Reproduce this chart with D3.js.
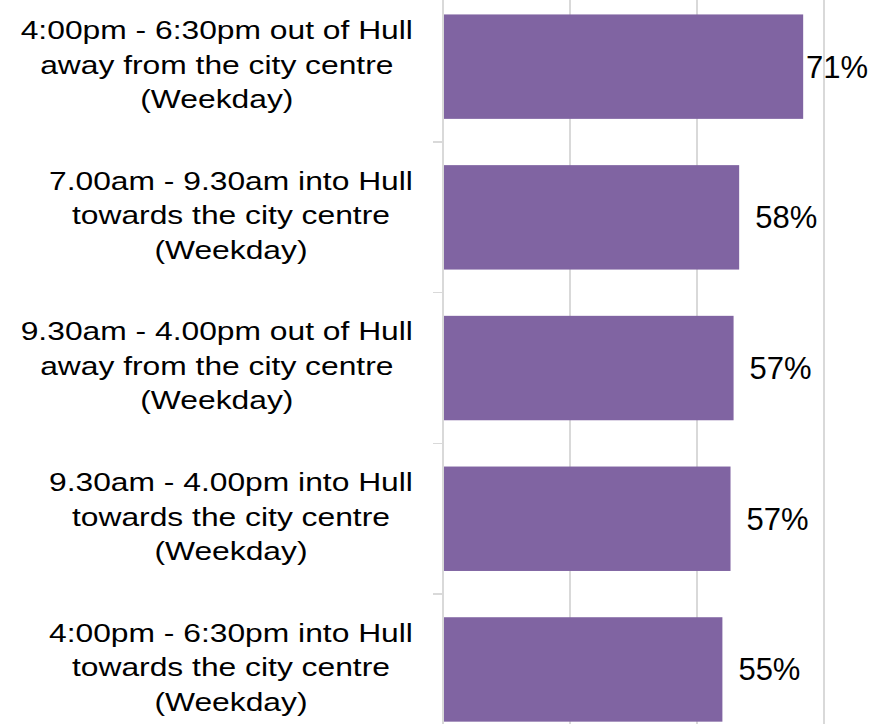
<!DOCTYPE html>
<meta charset="utf-8">

<style>
body { margin: 0; background: #fff; }

.catLabel {
  font-family: "Liberation Sans", Arial, sans-serif;
  font-size: 26px;
  fill: #000;
}

.valLabel {
  font-family: "Liberation Sans", Arial, sans-serif;
  font-size: 31px;
  fill: #000;
}

.grid line, .axisLine, .tickMark {
  stroke: #d9d9d9;
  stroke-width: 1.5;
  shape-rendering: crispEdges;
}
</style>

<svg width="872" height="724"></svg>

<script src="https://cdn.jsdelivr.net/npm/d3@7"></script>
<script>

//categories (top to bottom) and their shares
const categories = [
  ["4:00pm - 6:30pm out of Hull", "away from the city centre", "(Weekday)"],
  ["7.00am - 9.30am into Hull", "towards the city centre", "(Weekday)"],
  ["9.30am - 4.00pm out of Hull", "away from the city centre", "(Weekday)"],
  ["9.30am - 4.00pm into Hull", "towards the city centre", "(Weekday)"],
  ["4:00pm - 6:30pm into Hull", "towards the city centre", "(Weekday)"]
]
const values = [0.709, 0.583, 0.572, 0.566, 0.550]
const xTicks = [0, 0.25, 0.5, 0.75, 1]

const svg = d3.select("svg")

//plot area is bigger than the picture, it gets cut at the edges
const plotLeft = 443,
    plotRight = 951,
    plotTop = -8.7,
    plotBottom = 744.8,
    lineGap = 34.5,
    labelRight = 413,
    stretchX = 1.223   //category labels come out wider than tall

const x = d3.scaleLinear()
    .domain([0, 1])
    .range([plotLeft, plotRight])

const y = d3.scaleBand()
    .domain(d3.range(categories.length))
    .range([plotTop, plotBottom])
    .paddingInner(0.307)
    .paddingOuter(0.1535)

const step = y.step()

//vertical gridlines
svg.append("g")
    .attr("class", "grid")
  .selectAll("line")
  .data(xTicks.slice(1))
  .enter().append("line")
    .attr("x1", d => x(d))
    .attr("x2", d => x(d))
    .attr("y1", plotTop)
    .attr("y2", plotBottom)

//bars
svg.append("g")
  .selectAll("rect")
  .data(values)
  .enter().append("rect")
    .attr("x", x(0))
    .attr("y", (d, i) => y(i))
    .attr("width", d => x(d) - x(0))
    .attr("height", y.bandwidth())
    .attr("fill", "#8064a2")

//category axis line + tick marks between categories
svg.append("line")
    .attr("class", "axisLine")
    .attr("x1", x(0))
    .attr("x2", x(0))
    .attr("y1", plotTop)
    .attr("y2", plotBottom)

svg.append("g")
  .selectAll("line")
  .data(d3.range(categories.length + 1))
  .enter().append("line")
    .attr("class", "tickMark")
    .attr("x1", x(0) - 10)
    .attr("x2", x(0))
    .attr("y1", i => plotTop + i * step)
    .attr("y2", i => plotTop + i * step)

//wrapped category labels, block right-aligned to the axis, lines centred
const labels = svg.append("g")
  .selectAll("text")
  .data(categories)
  .enter().append("text")
    .attr("class", "catLabel")
    .attr("text-anchor", "middle")

labels.each(function(lines, i) {
  const t = d3.select(this)
  const mid = y(i) + y.bandwidth() / 2 - 2.5
  lines.forEach((s, j) => {
    t.append("tspan")
        .attr("x", 0)
        .attr("y", mid + (j - (lines.length - 1) / 2) * lineGap)
        .attr("dy", "0.36em")
        .text(s)
  })
  let maxW = 0
  t.selectAll("tspan").each(function() {
    maxW = Math.max(maxW, this.getComputedTextLength())
  })
  const cx = labelRight - maxW * stretchX / 2
  t.attr("transform", `translate(${cx},0) scale(${stretchX},1)`)
})

//value labels at the outside end, kept inside the chart
const fmt = d3.format(".0%")
svg.append("g")
  .selectAll("text")
  .data(values)
  .enter().append("text")
    .attr("class", "valLabel")
    .attr("y", (d, i) => y(i) + y.bandwidth() / 2)
    .attr("dy", "0.35em")
    .text(d => fmt(d))
    .attr("x", function(d) {
      const w = this.getComputedTextLength()
      return Math.min(x(d) + 16, 868 - w)
    })

</script>
